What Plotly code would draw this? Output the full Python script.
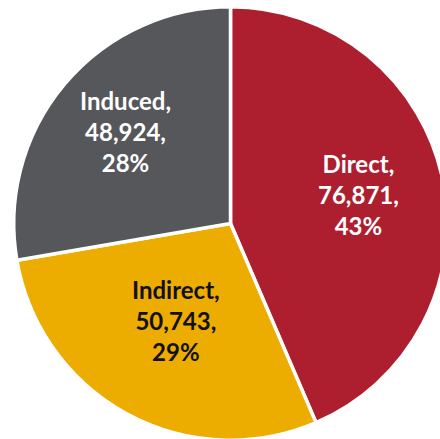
import math
import plotly.graph_objects as go

# Employment impact by type
categories = ["Direct", "Indirect", "Induced"]
values = [76871, 50743, 48924]
percent_labels = ["43%", "29%", "28%"]

colors = ["#AD1F2F", "#EDAC00", "#56575B"]
text_colors = ["#FFFFFF", "#111111", "#FFFFFF"]
label_radius = [0.61, 0.53, 0.64]   # label distance from centre, as a fraction of the radius

# Canvas and pie geometry (pixels)
W, H = 460, 445
CX, CY = 230.5, 223.5      # pie centre, measured from the top-left corner
R_VIS = 215.0              # visible radius
LINE_W = 3.5
R = R_VIS + LINE_W / 2     # radius before the white outline eats into it

dom_x = [(CX - R) / W, (CX + R) / W]
dom_y = [(H - CY - R) / H, (H - CY + R) / H]

fig = go.Figure(
    go.Pie(
        labels=categories,
        values=values,
        sort=False,
        direction="clockwise",
        rotation=0,
        marker=dict(colors=colors, line=dict(color="#FFFFFF", width=LINE_W)),
        textinfo="none",
        hoverinfo="label+value+percent",
        showlegend=False,
        domain=dict(x=dom_x, y=dom_y),
    )
)

# Labels sit on each slice's bisector
total = sum(values)
start = 0.0
for cat, val, pct, tc, f in zip(categories, values, percent_labels, text_colors, label_radius):
    sweep = 360.0 * val / total
    mid = math.radians(start + sweep / 2)
    start += sweep
    px = CX + f * R_VIS * math.sin(mid)
    py = CY - f * R_VIS * math.cos(mid)
    fig.add_annotation(
        x=px / W,
        y=(H - py) / H,
        xref="paper",
        yref="paper",
        xanchor="center",
        yanchor="middle",
        yshift=3,
        showarrow=False,
        align="center",
        text=f"{cat},<br>{val:,},<br>{pct}",
        font=dict(family="Lato", size=24, color=tc, weight="bold"),
    )

fig.update_layout(
    width=W,
    height=H,
    margin=dict(l=0, r=0, t=0, b=0),
    paper_bgcolor="#FFFFFF",
    plot_bgcolor="#FFFFFF",
)

fig.write_html(
    "out.html",
    config={"displayModeBar": False, "responsive": False},
    post_script="document.documentElement.style.overflow='hidden';document.body.style.overflow='hidden';",
)
